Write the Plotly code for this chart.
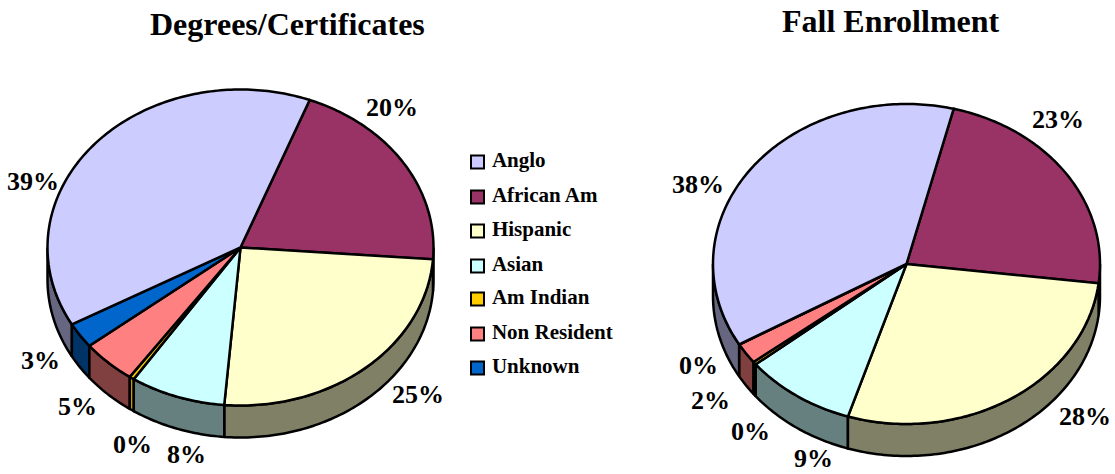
import math
import plotly.graph_objects as go

CATEGORIES = ["Anglo", "African Am", "Hispanic", "Asian", "Am Indian", "Non Resident", "Unknown"]
DEGREES = [39.0, 20.4, 25.2, 8.0, 0.4, 4.6, 2.6]
ENROLLMENT = [37.6, 23.2, 28.2, 9.4, 0.3, 2.1, 0.03]

TITLES = ["Degrees/Certificates", "Fall Enrollment"]

# Styling and layout (pixel-like axis units)
TOP_COLORS = ["#CCCCFF", "#993366", "#FFFFCC", "#CCFFFF", "#FFCC00", "#FF8080", "#0066CC"]
SIDE_COLORS = ["#666680", "#4D1A33", "#808066", "#668080", "#CC9F00", "#804040", "#003366"]
FONT = "Liberation Serif"
W, H = 1115, 474
DEPTH = 32
PIES = [
    dict(values=DEGREES, cx=240.5, cy=247.5, rx=193, ry=158, start=21.0, title_xy=(287, 24),
         label_xy=[(33, 181), (392, 107), (418, 394), (186, 454), (132, 444), (77, 406), (40, 360)]),
    dict(values=ENROLLMENT, cx=906.5, cy=264, rx=193.5, ry=160, start=14.1, title_xy=(891, 21),
         label_xy=[(698, 184), (1058, 119), (1085, 416), (813, 458.5), (750, 431), (710, 400), (698, 365)]),
]
LEGEND_X = 477.5
LEGEND_Y = [162, 197, 231, 266, 299, 334, 368]


def pt(p, theta, dy=0.0):
    r = math.radians(theta)
    return p["cx"] + p["rx"] * math.sin(r), p["cy"] - p["ry"] * math.cos(r) + dy


def arc(p, a, b, dy=0.0):
    n = max(2, int(abs(b - a) / 1.0) + 2)
    pts = [pt(p, a + (b - a) * i / (n - 1), dy) for i in range(n)]
    return pts


def poly(points, color):
    return go.Scatter(
        x=[q[0] for q in points], y=[q[1] for q in points],
        mode="lines", fill="toself", fillcolor=color,
        line=dict(color="black", width=2.5, simplify=False),
        hoverinfo="skip", showlegend=False,
    )


fig = go.Figure()
annotations = []

for p in PIES:
    total = sum(p["values"])
    angles = []
    # Anglo ends at the start angle; the others run clockwise from it.
    a = p["start"]
    for i in range(1, len(CATEGORIES)):
        b = a + p["values"][i] / total * 360
        angles.append((i, a, b))
        a = b
    angles.append((0, a, p["start"] + 360))

    # Rim: only the front half of the ellipse is visible
    for i, a, b in sorted(angles, key=lambda t: abs((t[1] + t[2]) / 2 % 360 - 180), reverse=True):
        lo, hi = max(a, 90), min(b, 270)
        if hi > lo:
            fig.add_trace(poly(arc(p, lo, hi) + arc(p, hi, lo, DEPTH) + [pt(p, lo)], SIDE_COLORS[i]))

    # Top face
    for i, a, b in angles:
        fig.add_trace(poly([(p["cx"], p["cy"])] + arc(p, a, b) + [(p["cx"], p["cy"])], TOP_COLORS[i]))

    for v, (x, y) in zip(p["values"], p["label_xy"]):
        annotations.append(dict(x=x, y=y, text=f"<b>{round(v)}%</b>", showarrow=False, xref="x", yref="y",
                                font=dict(family=FONT, size=26, color="black")))

for t, p in zip(TITLES, PIES):
    annotations.append(dict(x=p["title_xy"][0], y=p["title_xy"][1], text=f"<b>{t}</b>", showarrow=False,
                            xref="x", yref="y", font=dict(family=FONT, size=32, color="black")))

# Key
for name, color, y in zip(CATEGORIES, TOP_COLORS, LEGEND_Y):
    fig.add_trace(go.Scatter(
        x=[LEGEND_X], y=[y], mode="markers+text",
        marker=dict(symbol="square", size=13, color=color, line=dict(color="black", width=2)),
        text=[f"<b>&nbsp;{name}</b>"], textposition="middle right",
        textfont=dict(family=FONT, size=21, color="black"),
        hoverinfo="skip", showlegend=False, cliponaxis=False,
    ))

fig.update_layout(
    width=W, height=H, margin=dict(l=0, r=0, t=0, b=0),
    paper_bgcolor="white", plot_bgcolor="white",
    showlegend=False, annotations=annotations,
    xaxis=dict(range=[0, W], visible=False, fixedrange=True),
    yaxis=dict(range=[H, 0], visible=False, fixedrange=True),
)
fig.write_html("out.html", config={"displayModeBar": False},
               post_script="document.body.style.margin='0';document.body.style.overflow='hidden';")
